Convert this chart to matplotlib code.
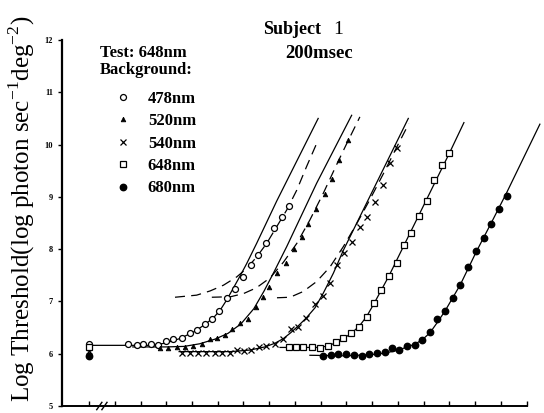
import matplotlib
matplotlib.use('Agg')
import matplotlib.pyplot as plt

plt.rcParams['font.family'] = ['Liberation Serif', 'DejaVu Serif']
plt.rcParams['mathtext.fontset'] = 'custom'
plt.rcParams['mathtext.rm'] = 'Liberation Serif'

# background wavelengths (legend labels)
labels = ['478nm', '520nm', '540nm', '648nm', '680nm']

# measured thresholds (x = log background, arbitrary tick units; x=0 is the dark point)
x478 = [0, 1.53, 1.85, 2.11, 2.41, 2.69, 2.99, 3.27, 3.60, 3.92, 4.18, 4.50, 4.79, 5.06,
        5.35, 5.67, 5.99, 6.28, 6.57, 6.87, 7.20, 7.48, 7.77]
y478 = [6.18, 6.18, 6.16, 6.18, 6.18, 6.17, 6.24, 6.28, 6.31, 6.40, 6.45, 6.57, 6.66, 6.82,
        7.06, 7.23, 7.47, 7.70, 7.89, 8.11, 8.40, 8.61, 8.82]

x520 = [0, 2.76, 3.07, 3.42, 3.73, 4.04, 4.39, 4.70, 4.97, 5.28, 5.55, 5.86, 6.17, 6.49,
        6.76, 6.99, 7.30, 7.65, 7.96, 8.27, 8.50, 8.82, 9.17, 9.44, 9.71, 10.06]
y520 = [6.10, 6.11, 6.11, 6.12, 6.13, 6.15, 6.19, 6.28, 6.31, 6.36, 6.47, 6.58, 6.66, 6.89,
        7.08, 7.28, 7.54, 7.74, 8.00, 8.24, 8.49, 8.77, 9.05, 9.34, 9.70, 10.09]

x540 = [0, 3.61, 3.92, 4.23, 4.56, 4.89, 5.17, 5.48, 5.73, 6.02, 6.29, 6.60, 6.87, 7.22,
        7.55, 7.83, 8.10, 8.43, 8.78, 9.07, 9.34, 9.62, 9.92, 10.20, 10.52, 10.81, 11.11,
        11.41, 11.69, 11.97]
y540 = [6.05, 6.01, 6.01, 6.01, 6.02, 6.02, 6.02, 6.02, 6.07, 6.06, 6.08, 6.12, 6.15, 6.19,
        6.29, 6.47, 6.52, 6.69, 6.96, 7.11, 7.36, 7.70, 7.92, 8.14, 8.43, 8.62, 8.91,
        9.23, 9.64, 9.93]

x648 = [0, 7.78, 8.04, 8.32, 8.65, 8.97, 9.29, 9.59, 9.88, 10.19, 10.50, 10.78, 11.07,
        11.33, 11.64, 11.95, 12.23, 12.52, 12.80, 13.11, 13.40, 13.70, 14.00]
y648 = [6.13, 6.12, 6.12, 6.12, 6.12, 6.10, 6.15, 6.22, 6.31, 6.40, 6.52, 6.71, 6.97,
        7.21, 7.48, 7.74, 8.08, 8.31, 8.64, 8.92, 9.32, 9.61, 9.83]

x680 = [0, 9.08, 9.39, 9.68, 9.98, 10.29, 10.59, 10.89, 11.18, 11.48, 11.76, 12.05, 12.34,
        12.65, 12.95, 13.23, 13.53, 13.83, 14.12, 14.42, 14.73, 15.04, 15.33, 15.62, 15.92,
        16.22]
y680 = [5.96, 5.96, 5.98, 6.00, 5.99, 5.98, 5.96, 5.99, 6.01, 6.03, 6.10, 6.07, 6.15,
        6.17, 6.27, 6.41, 6.66, 6.82, 7.06, 7.32, 7.65, 7.97, 8.22, 8.48, 8.76, 9.02]

# fitted curves (solid)
fit478_x = [0, 2.37, 2.95, 3.53, 4.12, 4.50, 4.82, 5.09, 5.35, 5.60, 5.86, 6.12, 6.51, 7.29, 8.90]
fit478_y = [6.16, 6.16, 6.20, 6.29, 6.43, 6.56, 6.68, 6.83, 7.03, 7.25, 7.48, 7.72, 8.11, 8.92, 10.50]
fit520_x = [1.7, 3.0, 3.7, 4.3, 4.9, 5.4, 5.9, 6.4, 6.8, 7.16, 7.68, 8.84, 10.2]
fit520_y = [6.13, 6.13, 6.14, 6.19, 6.28, 6.39, 6.57, 6.86, 7.20, 7.54, 8.05, 9.26, 10.56]
fit540_x = [3.5, 5.5, 6.25, 6.83, 7.22, 7.55, 7.83, 8.10, 8.43, 8.78, 9.10, 9.49, 9.88, 10.65, 12.40]
fit540_y = [6.04, 6.04, 6.07, 6.13, 6.20, 6.29, 6.40, 6.52, 6.68, 6.88, 7.16, 7.54, 7.98, 8.75, 10.50]
fit648_x = [7.42, 8.97, 9.28, 9.59, 9.88, 10.19, 10.50, 10.78, 11.07, 11.64, 12.23, 12.80, 13.40, 14.00, 14.56]
fit648_y = [6.12, 6.12, 6.15, 6.21, 6.29, 6.39, 6.53, 6.71, 6.96, 7.48, 8.07, 8.64, 9.24, 9.84, 10.42]
fit680_x = [8.58, 9.94, 10.91, 11.46, 12.04, 12.34, 12.65, 12.95, 13.24, 13.53, 13.83, 14.42, 15.04, 15.62, 16.22, 17.51]
fit680_y = [5.97, 5.96, 5.98, 6.01, 6.07, 6.13, 6.18, 6.27, 6.40, 6.60, 6.82, 7.32, 7.95, 8.50, 9.08, 10.39]

# second-mechanism curves (dashed)
dash478_x = [3.34, 4.18, 4.70, 5.22, 5.74, 6.12, 6.51, 6.90, 7.29, 7.68, 8.07, 8.45, 8.84]
dash478_y = [7.08, 7.12, 7.20, 7.31, 7.47, 7.63, 7.85, 8.11, 8.43, 8.75, 9.13, 9.58, 10.02]
dash520_x = [4.77, 5.5, 6.0, 6.5, 7.03, 7.55, 8.07, 8.58, 9.10, 9.62, 10.01, 10.52]
dash520_y = [7.08, 7.09, 7.15, 7.26, 7.45, 7.75, 8.11, 8.56, 9.07, 9.62, 10.02, 10.53]
dash540_x = [7.30, 7.81, 8.32, 8.84, 9.36, 9.88, 10.40, 10.91, 11.44, 11.97, 12.42]
dash540_y = [7.07, 7.08, 7.19, 7.38, 7.66, 8.05, 8.49, 8.95, 9.45, 9.97, 10.40]

x_ticks = list(range(0, 18))
y_ticks = [5, 6, 7, 8, 9, 10, 11, 12]

fig = plt.figure(figsize=(5.44, 4.13), dpi=100)
W, H = 544, 413
ax = fig.add_axes([62 / W, 7 / H, 480 / W, 366 / H])

lw = 0.9
for fx, fy in [(fit478_x, fit478_y), (fit520_x, fit520_y), (fit540_x, fit540_y),
               (fit648_x, fit648_y), (fit680_x, fit680_y)]:
    ax.plot(fx, fy, color='black', lw=lw, clip_on=False, zorder=2)
for dx, dy in [(dash478_x, dash478_y), (dash520_x, dash520_y), (dash540_x, dash540_y)]:
    ax.plot(dx, dy, color='black', lw=lw, dashes=(8, 5), zorder=2)

h1, = ax.plot(x478, y478, 'o', ms=4.3, mfc='white', mec='black', mew=0.9, ls='none', zorder=3)
h2, = ax.plot(x520, y520, '^', ms=3.3, mfc='black', mec='black', mew=0.6, ls='none', zorder=3)
h3, = ax.plot(x540, y540, 'x', ms=4.3, color='black', mew=0.9, ls='none', zorder=3)
h4, = ax.plot(x648, y648, 's', ms=4.0, mfc='white', mec='black', mew=0.9, ls='none', zorder=3)
h5, = ax.plot(x680, y680, 'o', ms=4.6, mfc='black', mec='black', ls='none', zorder=3)

ax.set_xlim((62 - 89) / 25.75, (542 - 89) / 25.75)
ax.set_ylim(5, 12)
ax.spines['top'].set_visible(False)
ax.spines['right'].set_visible(False)
ax.spines['left'].set_linewidth(1.6)
ax.spines['bottom'].set_linewidth(1.4)
ax.spines['bottom'].set_bounds(ax.get_xlim()[0], 17)

ax.set_xticks(x_ticks)
ax.set_xticklabels([])
ax.tick_params(axis='x', direction='in', length=3.5, width=1)
ax.set_yticks(y_ticks)
ax.set_yticklabels([str(v) for v in y_ticks], fontsize=6, fontweight='bold')
ax.tick_params(axis='y', direction='out', length=3, width=1, pad=3.5)

# axis break marks near the dark point
for xb in [0.40, 0.60]:
    ax.plot([xb - 0.1, xb + 0.1], [4.93, 5.07], color='black', lw=1, clip_on=False)

fig.text(22 / W, 1 - 209 / H, 'Log Threshold(log photon sec$^{-1}$deg$^{-2}$)',
         rotation=90, ha='center', va='center', fontsize=18)

fig.text(263 / W, 1 - 30 / H, 'Subject', fontsize=13, fontweight='bold', va='center')
fig.text(333 / W, 1 - 30 / H, '1', fontsize=14, va='center')
fig.text(319 / W, 1 - 53 / H, '200msec', fontsize=13.5, fontweight='bold', ha='center', va='center')

fig.text(100 / W, 1 - 53 / H, 'Test: 648nm', fontsize=12, fontweight='bold', va='center')
fig.text(100 / W, 1 - 70 / H, 'Background:', fontsize=12, fontweight='bold', va='center')

ax.legend([h1, h2, h3, h4, h5], labels, loc='upper left',
          bbox_to_anchor=(100 / W, 1 - 91 / H), bbox_transform=fig.transFigure,
          frameon=False, prop={'size': 12, 'weight': 'bold'},
          handlelength=2.75, handletextpad=0.12, labelspacing=0.38,
          borderpad=0, borderaxespad=0)

fig.savefig('out.png', dpi=100)
